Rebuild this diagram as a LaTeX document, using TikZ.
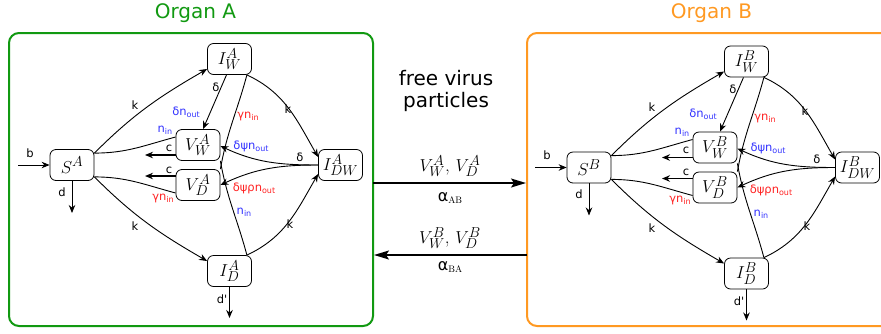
\documentclass[tikz,border=0pt]{standalone}
\usepackage{fontspec}
\newfontfamily\dv{DejaVu Sans}
\usetikzlibrary{arrows.meta}
\DeclareMathSizes{19}{19}{14}{10}
\definecolor{orgA}{RGB}{17,153,17}
\definecolor{orgB}{RGB}{255,153,34}
\definecolor{lblue}{RGB}{51,51,255}
\definecolor{lred}{RGB}{255,34,34}
\newcommand\mysub[1]{\raisebox{-0.35ex}{\fontsize{8}{9}\selectfont #1}}
\tikzset{
  cell/.style={draw, line width=0.8pt, rounded corners=6pt, minimum width=44pt, minimum height=31pt, inner sep=0pt, font=\fontsize{19}{21}\selectfont},
  lab/.style={font=\dv\fontsize{11.5}{13}\selectfont, inner sep=1pt},
  arr/.style={line width=0.9pt, -{Stealth[length=8pt,width=6.5pt]}},
  carr/.style={line width=1.3pt, -{Stealth[length=8pt,width=6.5pt]}},
  ln/.style={line width=0.9pt},
  bigarr/.style={line width=1.6pt, -{Stealth[length=15pt,width=9pt,inset=3pt]}},
  title/.style={font=\dv\fontsize{20}{24}\selectfont, anchor=base, inner sep=0pt},
  mid/.style={font=\fontsize{19}{21}\selectfont, inner sep=0pt},
}
\newcommand\organ[1]{%
  \node[cell] (S#1) at (72,165) {$S^{#1}$};
  \node[cell] (IW#1) at (229.5,59) {$I_W^{#1}$};
  \node[cell] (VW#1) at (198,145) {$V_W^{#1}$};
  \node[cell] (VD#1) at (198,185) {$V_D^{#1}$};
  \node[cell] (IDW#1) at (340.5,165) {$I_{DW}^{#1}$};
  \node[cell] (ID#1) at (229.5,271) {$I_D^{#1}$};
  \coordinate (bin#1) at (18,165);
  \coordinate (dout#1) at (72,213);
  \coordinate (cW#1) at (145,155);
  \coordinate (cD#1) at (145,176);
  \coordinate (dpout#1) at (229.5,318);
  \coordinate (Sa#1) at ([yshift=-4pt]S#1.north east);
  \coordinate (Sb#1) at ([yshift=4pt]S#1.south east);
  \coordinate (Ia#1) at ([xshift=-5pt]IW#1.south east);
  \coordinate (Ib#1) at ([xshift=-5pt]ID#1.north east);
  % connectors
  \draw[arr] (bin#1) -- (S#1);
  \draw[arr] (S#1) -- (dout#1);
  \draw[arr] (ID#1) -- (dpout#1);
  \draw[carr] ([yshift=-10pt]VW#1.west) -- (cW#1);
  \draw[carr] ([yshift=9pt]VD#1.west) -- (cD#1);
  \draw[ln] (Sa#1) to[out=0,in=195] ([yshift=8pt]VW#1.west);
  \draw[ln] (Sb#1) to[out=0,in=165] ([yshift=-8pt]VD#1.west);
  \draw[arr] (Sa#1) to[out=45,in=-150] ([yshift=-10pt]IW#1.west);
  \draw[arr] (Sb#1) to[out=-45,in=150] ([yshift=10pt]ID#1.west);
  \draw[arr] ([xshift=-3pt]IW#1.south) -- ([xshift=5pt]VW#1.north);
  \draw[arr] (Ia#1) to[out=-25,in=120] ([yshift=8pt]IDW#1.west);
  \draw[arr] (Ib#1) to[out=25,in=-120] ([yshift=-9pt]IDW#1.west);
  \draw[arr] (IDW#1.west) to[out=180,in=-25] ([yshift=-1pt]VW#1.east);
  \draw[arr] (IDW#1.west) to[out=180,in=25] (VD#1.east);
  \draw[ln] (Ia#1) to[out=-105,in=80] (VD#1.north east);
  \draw[ln] (Ib#1) to[out=105,in=-80] (VW#1.south east);
  % labels
  \node[lab] (lb#1) at (30,153) {b};
  \node[lab] (ld#1) at (62,192) {d};
  \node[lab] (lk1#1) at (135,105) {k};
  \node[lab] (lk2#1) at (135,226) {k};
  \node[lab, text=lblue] (lnin1#1) at (165,130) {n\mysub{in}};
  \node[lab, text=lred] (lgn1#1) at (163,198) {γn\mysub{in}};
  \node[lab] (lc1#1) at (169,148) {c};
  \node[lab] (lc2#1) at (169,170) {c};
  \node[lab] (ldel1#1) at (216,87) {δ};
  \node[lab, text=lblue] (ldn#1) at (186,112) {δn\mysub{out}};
  \node[lab, text=lred] (lgn2#1) at (248,116) {γn\mysub{in}};
  \node[lab] (lk3#1) at (288,109) {k};
  \node[lab, text=lblue] (ldpn#1) at (251,146) {δψn\mysub{out}};
  \node[lab] (ldel2#1) at (300,157) {δ};
  \node[lab, text=lred] (ldpr#1) at (254,188) {δψρn\mysub{out}};
  \node[lab, text=lblue] (lnin2#1) at (244,212) {n\mysub{in}};
  \node[lab] (lk4#1) at (290,224) {k};
  \node[lab] (ldp#1) at (222,299) {d'};
}
\begin{document}
\begin{tikzpicture}[x=1pt, y=-1pt]
  \useasboundingbox (0,0) rectangle (881,333);
  % organ boxes
  \node[draw=orgA, line width=2pt, rounded corners=10pt, minimum width=364pt, minimum height=293pt, inner sep=0pt] (orgAbox) at (191,179.5) {};
  \draw[orgB, line width=2pt, rounded corners=10pt] (884,33) -- (527,33) -- (527,326) -- (884,326);
  \node[title, text=orgA] (tA) at (195.5,18) {Organ A};
  \node[title, text=orgB] (tB) at (711.5,18) {Organ B};
  \begin{scope}
    \organ{A}
  \end{scope}
  \begin{scope}[shift={(517,2.5)}]
    \organ{B}
  \end{scope}
  % middle
  \node[title, text=black] (fv1) at (446,85) {free virus};
  \node[title, text=black] (fv2) at (446,107) {particles};
  \coordinate (aR1) at (373,183);
  \coordinate (bL1) at (526,183);
  \coordinate (bL2) at (527,255);
  \coordinate (aR2) at (374,255);
  \draw[bigarr] (aR1) -- (bL1);
  \draw[bigarr] (bL2) -- (aR2);
  \node[mid] (m1) at (450,166) {$V_W^A$, $V_D^A$};
  \node[mid] (m2) at (450,238) {$V_W^B$, $V_D^B$};
  \node[inner sep=0pt] (al1) at (450,198) {{\dv\fontsize{16}{18}\selectfont α}\raisebox{-2pt}{\fontsize{9.5}{10}\selectfont AB}};
  \node[inner sep=0pt] (al2) at (450,267) {{\dv\fontsize{16}{18}\selectfont α}\raisebox{-2pt}{\fontsize{9.5}{10}\selectfont BA}};
\end{tikzpicture}
\end{document}
